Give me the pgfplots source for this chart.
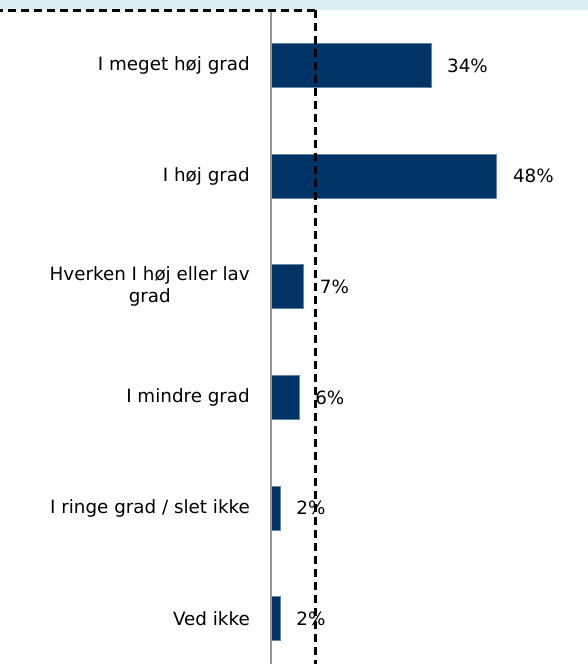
\documentclass[border=0pt]{standalone}
\usepackage{pgfplots}
\pgfplotsset{compat=1.18}
\usepackage{fontspec}
\setmainfont{DejaVu Sans}
\definecolor{navy}{RGB}{0,51,102}
\definecolor{band}{RGB}{218,238,243}
\definecolor{axgray}{RGB}{150,150,150}
\begin{document}
\begin{tikzpicture}
\useasboundingbox (-270.7pt,10pt) rectangle (317.3pt,674pt);
\clip (-270.7pt,10pt) rectangle (317.3pt,674pt);
\fill[band] (-270.7pt,664pt) rectangle (317.3pt,675pt);
\begin{axis}[
  at={(0pt,0pt)}, anchor=south west,
  scale only axis, width=317.3pt, height=664pt,
  xmin=0, xmax=67.37, ymin=-0.5, ymax=5.5, y dir=reverse,
  xbar, bar width=44pt,
  axis on top,
  axis x line=none, axis y line*=left,
  axis line style={axgray, line width=2pt, -},
  ytick={0,1,2,3,4,5},
  yticklabels={I meget høj grad, I høj grad, {Hverken I høj eller lav\\grad}, I mindre grad, I ringe grad / slet ikke, Ved ikke},
  yticklabel style={inner sep=0pt, xshift=-20.7pt, align=center, font=\fontsize{18.3}{22}\selectfont},
  major tick length=0pt,
  /pgf/number format/assume math mode=true,
  nodes near coords={\pgfmathprintnumber{\pgfplotspointmeta}\%},
  nodes near coords style={anchor=west, inner sep=0pt, xshift=16pt, font=\fontsize{18.3}{22}\selectfont, text=black},
  clip=false,
]
\addplot[fill=navy, draw=navy!60!white, line width=0.6pt] coordinates {(34,0) (48,1) (7,2) (6,3) (2,4) (2,5)};
\draw[black, line width=2.4pt, dash pattern=on 8pt off 5pt] (axis cs:9.5,-0.5) -- (axis cs:9.5,5.5);
\end{axis}
\draw[black, line width=2.4pt, dash pattern=on 8pt off 5pt] (44.7pt,663.5pt) -- (-270.7pt,663.5pt);
\end{tikzpicture}
\end{document}
